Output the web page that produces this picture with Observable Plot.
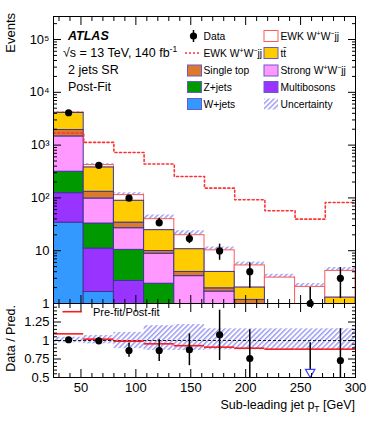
<!DOCTYPE html>
<html><head><meta charset="utf-8">
<script src="https://cdn.jsdelivr.net/npm/d3@7"></script>
<script src="https://cdn.jsdelivr.net/npm/@observablehq/plot@0.6"></script>
<style>
body{margin:0;background:#fff;}
#chart{width:374px;height:421px;font-family:"Liberation Sans",Arial,sans-serif;}
#chart svg{display:block;overflow:visible;}
</style></head><body><div id="chart"></div>
<script>
// ---------- data ----------
const binEdges = [25, 52.5, 80, 107.5, 135, 162.5, 190, 217.5, 245, 272.5, 300];
const wJets      = [34, 1.65, 0.3, 0, 0, 0, 0, 0, 0, 0];
const multiboson = [89, 9.35, 2.37, 0.5, 0.2, 0.1, 0.05, 0.05, 0.05, 0.05];
const zJets      = [190, 21.7, 7.7, 1.87, 0.6, 0.3, 0.15, 0.1, 0.1, 0.1];
const strongWW   = [1149, 64.7, 16.3, 6.4, 2.5, 1.28, 0.7, 0.35, 0.3, 0.6];
const singleTop  = [473, 33.2, 7.4, 1.1, 0.66, 0.26, 0.27, 0.1, 0.1, 0.15];
const ttbar      = [2130, 246, 54, 14.6, 6.7, 2.02, 0.83, 0.3, 0.4, 0.39];
const ewkWW      = [60, 42, 25, 15.1, 9.0, 6.2, 3.26, 2.19, 1.11, 2.85];
const ewkDashed  = [1697, 1125, 727, 438, 255, 153, 92, 57, 39.6, 82];
const dataVal    = [4100, 415, 99, 34, 17, 9.9, 4, 0, 1, 3];
const dataLo     = [4036, 395, 89, 28.3, 13.6, 6.6, 1.94, null, 0.01, 1.25];
const dataHi     = [4164, 435, 109, 41.4, 21.5, 13.3, 5.9, null, 2.0, 4.78];
const ratioVal   = [1.01, 0.995, 0.865, 0.865, 0.875, 1.077, 0.757, null, 0.3, 0.73];
const ratioLo    = [0.99, 0.96, 0.775, 0.716, 0.66, 0.73, 0.37, null, 0.2, 0.3];
const ratioHi    = [1.03, 1.03, 0.964, 1.01, 1.09, 1.41, 1.145, null, 0.97, 1.16];
const bandLo     = [0.969, 0.955, 0.89, 0.865, 0.865, 0.874, 0.874, 0.874, 0.874, 0.874];
const bandHi     = [1.045, 1.068, 1.11, 1.2, 1.216, 1.158, 1.158, 1.158, 1.158, 1.158];
const prefitRatio= [1.09, 1.018, 0.99, 0.955, 0.93, 0.91, 0.896, 0.883, 0.883, 0.883];
const yMajorTicks = [1, 10, 100, 1000, 10000, 100000];
const yMajorLabels = ["1", "10", "10\u00B2", "10\u00B3", "10\u2074", "10\u2075"];
const xMajorTicks = [50, 100, 150, 200, 250, 300];
const xMajorLabels = ["50", "100", "150", "200", "250", "300"];
const rMajorTicks = [0.5, 0.75, 1, 1.25, 1.5];
const rMajorLabels = ["0.5", "0.75", "1", "1.25", ""];

const FONT = '"Liberation Sans", Arial, Helvetica, sans-serif';
const OUTLINE = "#3d3596";
const components = [
  {name: "W+jets", values: wJets, fill: "#3399ff"},
  {name: "Multibosons", values: multiboson, fill: "#9933ff"},
  {name: "Z+jets", values: zJets, fill: "#009900"},
  {name: "Strong", values: strongWW, fill: "#ff99ff"},
  {name: "Single top", values: singleTop, fill: "#dc7a2c"},
  {name: "ttbar", values: ttbar, fill: "#ffcc00"}
];

const nb = binEdges.length - 1;
const FLOOR = 1e-3;
const bins = d3.range(nb).map(i => ({
  i, x1: binEdges[i], x2: binEdges[i + 1], xc: (binEdges[i] + binEdges[i + 1]) / 2
}));
let cum = new Array(nb).fill(0);
const compRows = components.map(c => {
  const rows = [];
  bins.forEach((b, i) => {
    const lo = cum[i], hi = cum[i] + c.values[i];
    if (c.values[i] > 0) rows.push({...b, y1: Math.max(lo, FLOOR), y2: Math.max(hi, FLOOR)});
    cum[i] = hi;
  });
  return {c, rows};
});
const bkgTotal = cum.slice();
const ewkRows = bins.map((b, i) => ({...b, y1: Math.max(bkgTotal[i], FLOOR), y2: bkgTotal[i] + ewkWW[i]}));
const total = bins.map((b, i) => bkgTotal[i] + ewkWW[i]);
const bandRows = bins.map((b, i) => ({...b, y1: total[i] * bandLo[i], y2: total[i] * bandHi[i], r1: bandLo[i], r2: bandHi[i]}));
const stepPts = binEdges.map((x, i) => ({x, y: ewkDashed[Math.min(i, nb - 1)]}));
const dataRows = bins.map((b, i) => ({...b, v: dataVal[i], lo: dataLo[i], hi: dataHi[i]}));
const ratioRows = bins.map((b, i) => ({...b, v: ratioVal[i], lo: ratioLo[i], hi: ratioHi[i], pf: prefitRatio[i]}));

const xDomain = [binEdges[0], binEdges[nb]];
const yMinor = [];
for (let e = 0; e < 6; e++) for (let k = 2; k <= 9; k++) { const v = k * 10 ** e; if (v < 2.73e5) yMinor.push(v); }
const xMinor = d3.range(30, 300, 10).filter(v => v % 50 !== 0);
const rMinor = d3.range(0.55, 1.5, 0.05).filter(v => Math.abs(v * 4 - Math.round(v * 4)) > 1e-6);
const yLabelMap = new Map(yMajorTicks.map((t, i) => [t, yMajorLabels[i]]));
const xLabelMap = new Map(xMajorTicks.map((t, i) => [t, xMajorLabels[i]]));
const rLabelMap = new Map(rMajorTicks.map((t, i) => [t, rMajorLabels[i]]));

function frameTicks(xMaj, xMin, yMaj, yMin) {
  const o = {fill: "none", label: null, stroke: "black"};
  return [
    Plot.axisX(xMaj, {...o, anchor: "bottom", tickSize: -8}),
    Plot.axisX(xMin, {...o, anchor: "bottom", tickSize: -4}),
    Plot.axisX(xMaj, {...o, anchor: "top", tickSize: -8}),
    Plot.axisX(xMin, {...o, anchor: "top", tickSize: -4}),
    Plot.axisY(yMaj, {...o, anchor: "left", tickSize: -8}),
    Plot.axisY(yMin, {...o, anchor: "left", tickSize: -4}),
    Plot.axisY(yMaj, {...o, anchor: "right", tickSize: -8}),
    Plot.axisY(yMin, {...o, anchor: "right", tickSize: -4})
  ];
}

// ---------- main panel ----------
const main = Plot.plot({
  width: 374, height: 303,
  marginLeft: 53, marginRight: 19, marginTop: 16, marginBottom: 0,
  style: {background: "transparent", overflow: "visible", fontFamily: FONT, color: "black"},
  x: {domain: xDomain, axis: null},
  y: {type: "log", domain: [1, 2.73e5], axis: null},
  marks: [
    Plot.rect(bandRows, {x1: "x1", x2: "x2", y1: "y1", y2: "y2", fill: "url(#hatchMain)", clip: true}),
    Plot.rect(ewkRows, {x1: "x1", x2: "x2", y1: "y1", y2: "y2", fill: "white", stroke: "#ff5a5a", strokeWidth: 1, clip: true, inset: 0}),
    ...compRows.map(({c, rows}) => Plot.rect(rows, {x1: "x1", x2: "x2", y1: "y1", y2: "y2", fill: c.fill, stroke: OUTLINE, strokeWidth: 1, clip: true, inset: 0})),
    Plot.line(stepPts, {x: "x", y: "y", curve: "step-after", stroke: "#ff3030", strokeWidth: 1.6, strokeDasharray: "2,2.5"}),
    Plot.ruleX(dataRows.filter(d => d.lo != null), {x: "xc", y1: "lo", y2: "hi", stroke: "black", strokeWidth: 1.5, clip: true}),
    Plot.dot(dataRows.filter(d => d.v > 0), {x: "xc", y: "v", r: 3.6, fill: "black", stroke: "none"}),
    Plot.frame({stroke: "black", strokeWidth: 1}),
    ...frameTicks(xMajorTicks, xMinor, yMajorTicks, yMinor),
    Plot.axisY(yMajorTicks, {anchor: "left", tickSize: 0, tickPadding: 4, label: null, fontSize: 13, tickFormat: d => yLabelMap.get(d), fill: "black"})
  ]
});

// ---------- ratio panel ----------
const ratio = Plot.plot({
  width: 374, height: 118,
  marginLeft: 53, marginRight: 19, marginTop: 0, marginBottom: 44,
  style: {background: "transparent", overflow: "visible", fontFamily: FONT, color: "black"},
  x: {domain: xDomain, axis: null},
  y: {domain: [0.5, 1.5], axis: null},
  marks: [
    Plot.rect(bandRows, {x1: "x1", x2: "x2", y1: "r1", y2: "r2", fill: "url(#hatchRatio)"}),
    Plot.ruleY([1], {stroke: "#222", strokeWidth: 1, strokeDasharray: "3,2"}),
    Plot.ruleY(ratioRows, {y: "pf", x1: "x1", x2: "x2", stroke: "#ff1a1a", strokeWidth: 1.6}),
    Plot.ruleX(ratioRows.filter(d => d.hi != null), {x: "xc", y1: "lo", y2: "hi", stroke: "black", strokeWidth: 1.5, clip: true}),
    Plot.dot(ratioRows.filter(d => d.v != null && d.v >= 0.5), {x: "xc", y: "v", r: 3.6, fill: "black", stroke: "none"}),
    Plot.dot(ratioRows.filter(d => d.v != null && d.v < 0.5), {x: "xc", y: () => 0.5, dy: -5.5, symbol: "triangle", rotate: 180, r: 3.5, fill: "white", stroke: "#4040ff", strokeWidth: 1.2}),
    Plot.frame({stroke: "black", strokeWidth: 1}),
    ...frameTicks(xMajorTicks, xMinor, rMajorTicks, rMinor),
    Plot.axisY(rMajorTicks, {anchor: "left", tickSize: 0, tickPadding: 4, label: null, fontSize: 13, tickFormat: d => rLabelMap.get(d), fill: "black"}),
    Plot.axisX(xMajorTicks, {anchor: "bottom", tickSize: 0, tickPadding: 5, label: null, fontSize: 13, tickFormat: d => xLabelMap.get(d), fill: "black"})
  ]
});

const chart = document.getElementById("chart");
chart.appendChild(main);
chart.appendChild(ratio);

function addHatch(svg, id) {
  const p = d3.select(svg).insert("defs", ":first-child").append("pattern")
    .attr("id", id).attr("patternUnits", "userSpaceOnUse")
    .attr("width", 3.6).attr("height", 3.6).attr("patternTransform", "rotate(45)");
  p.append("line").attr("x1", 0.8).attr("y1", 0).attr("x2", 0.8).attr("y2", 3.6)
    .attr("stroke", "#6a6af0").attr("stroke-width", 1);
}
addHatch(main, "hatchMain");
addHatch(ratio, "hatchRatio");

// ---------- annotations & legend (main) ----------
const gm = d3.select(main).append("g").attr("font-family", FONT).attr("fill", "black").attr("text-anchor", "start");
gm.append("text").attr("transform", "translate(15,13) rotate(-90)").attr("text-anchor", "end").attr("font-size", 13).text("Events");
gm.append("text").attr("x", 68).attr("y", 40).attr("font-size", 12.5).attr("font-weight", "bold").attr("font-style", "italic").text("ATLAS");
const sq = gm.append("text").attr("x", 63).attr("y", 56.5).attr("font-size", 12.5);
sq.append("tspan").text("\u221As = 13 TeV, 140 fb");
sq.append("tspan").attr("dy", -5).attr("font-size", 8.5).text("-1");
gm.append("text").attr("x", 68).attr("y", 73.5).attr("font-size", 12.5).text("2 jets SR");
gm.append("text").attr("x", 68).attr("y", 90.5).attr("font-size", 12.5).text("Post-Fit");

const rowY = [36, 53, 70.5, 87, 104];
const c1box = 187, c2box = 263.5, c1txt = 203.5, c2txt = 280.5, bw = 14, bh = 11;
function wwText(sel, prefix) {
  sel.append("tspan").text(prefix + "W");
  sel.append("tspan").attr("dy", -4).attr("font-size", 7).text("+");
  sel.append("tspan").attr("dy", 4).text("W");
  sel.append("tspan").attr("dy", -4).attr("font-size", 7).text("\u2212");
  sel.append("tspan").attr("dy", 4).text("jj");
}
function legText(x, y) { return gm.append("text").attr("x", x).attr("y", y + 3.7).attr("font-size", 10.3); }
function legBox(x, y, fill, stroke) {
  gm.append("rect").attr("x", x + 0.5).attr("y", y - bh / 2).attr("width", bw).attr("height", bh)
    .attr("fill", fill).attr("stroke", stroke).attr("stroke-width", 1);
}
// column 1
gm.append("line").attr("x1", 193.5).attr("x2", 193.5).attr("y1", rowY[0] - 6).attr("y2", rowY[0] + 6).attr("stroke", "black").attr("stroke-width", 1.5);
gm.append("circle").attr("cx", 193.5).attr("cy", rowY[0]).attr("r", 3.6).attr("fill", "black");
legText(c1txt, rowY[0]).text("Data");
gm.append("line").attr("x1", 185).attr("x2", 201).attr("y1", rowY[1]).attr("y2", rowY[1]).attr("stroke", "#ff3030").attr("stroke-width", 1.5).attr("stroke-dasharray", "2,2");
wwText(legText(c1txt, rowY[1]), "EWK ");
legBox(c1box, rowY[2], "#dc7a2c", "#6a5ac8"); legText(c1txt, rowY[2]).text("Single top");
legBox(c1box, rowY[3], "#009900", "#6a5ac8"); legText(c1txt, rowY[3]).text("Z+jets");
legBox(c1box, rowY[4], "#3399ff", "#6a5ac8"); legText(c1txt, rowY[4]).text("W+jets");
// column 2
legBox(c2box, rowY[0], "white", "#ff5a5a"); wwText(legText(c2txt, rowY[0]), "EWK ");
legBox(c2box, rowY[1], "#ffcc00", "#6a5ac8"); legText(c2txt, rowY[1]).text("t\u0074\u0304");
legBox(c2box, rowY[2], "#ff99ff", "#6a5ac8"); wwText(legText(c2txt, rowY[2]), "Strong ");
legBox(c2box, rowY[3], "#9933ff", "#6a5ac8"); legText(c2txt, rowY[3]).text("Multibosons");
gm.append("rect").attr("x", c2box + 0.5).attr("y", rowY[4] - bh / 2).attr("width", bw).attr("height", bh).attr("fill", "url(#hatchMain)");
legText(c2txt, rowY[4]).text("Uncertainty");

// ---------- ratio annotations ----------
const gr = d3.select(ratio).append("g").attr("font-family", FONT).attr("fill", "black").attr("text-anchor", "start");
gr.append("text").attr("transform", "translate(15,2) rotate(-90)").attr("text-anchor", "end").attr("font-size", 12.5).text("Data / Pred.");
gr.append("line").attr("x1", 62.5).attr("x2", 82).attr("y1", 8.7).attr("y2", 8.7).attr("stroke", "#ff1a1a").attr("stroke-width", 1.6);
gr.append("text").attr("x", 93).attr("y", 12.7).attr("font-size", 11).text("Pre-fit/Post-fit");
const xl = gr.append("text").attr("x", 355).attr("y", 106).attr("text-anchor", "end").attr("font-size", 12.5);
xl.append("tspan").text("Sub-leading jet p");
xl.append("tspan").attr("dy", 3).attr("font-size", 8.5).text("T");
xl.append("tspan").attr("dy", -3).text(" [GeV]");
</script>
</body></html>
